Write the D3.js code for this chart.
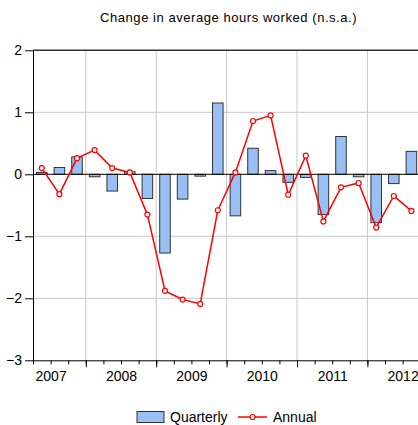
<!DOCTYPE html>
<html>
<head>
<meta charset="utf-8">
<script src="https://cdn.jsdelivr.net/npm/d3@7"></script>
<style>
body { margin: 0; background: #fff; }
svg { display: block; font-family: Arial, "Liberation Sans", sans-serif; }
.grid line { stroke: #c8c8c8; stroke-width: 1; }
.axis path, .axis line { stroke: #000; }
.axis text { font-size: 14px; fill: #000; }
</style>
</head>
<body>
<div id="chart"></div>
<script>
var WIDTH = 418;
var HEIGHT = 425;

var quarters = ['2007Q2', '2007Q3', '2007Q4',
	'2008Q1', '2008Q2', '2008Q3', '2008Q4',
	'2009Q1', '2009Q2', '2009Q3', '2009Q4',
	'2010Q1', '2010Q2', '2010Q3', '2010Q4',
	'2011Q1', '2011Q2', '2011Q3', '2011Q4',
	'2012Q1', '2012Q2', '2012Q3'];

var quarterly = [0.03, 0.11, 0.28,
	-0.04, -0.27, 0.04, -0.39,
	-1.27, -0.40, -0.03, 1.15,
	-0.67, 0.42, 0.06, -0.13,
	-0.05, -0.65, 0.61, -0.04,
	-0.78, -0.15, 0.37];

var annual = [0.10, -0.32, 0.26,
	0.39, 0.10, 0.03, -0.65,
	-1.88, -2.02, -2.09, -0.58,
	0.03, 0.86, 0.95, -0.33,
	0.30, -0.76, -0.21, -0.14,
	-0.86, -0.35, -0.59];

var years = [2007, 2008, 2009, 2010, 2011, 2012];
var yTicks = [-3, -2, -1, 0, 1, 2];

var plotLeft = 33, plotRight = 420.2, plotTop = 50.3, plotBottom = 360.3;

var svg = d3.select('#chart').append('svg')
	.attr('width', WIDTH)
	.attr('height', HEIGHT);

// time in fractional years, plot starts at 2007Q2
var t = d3.scaleLinear().domain([2007.25, 2012.75]).range([plotLeft, plotRight]);
var x = d3.scaleBand().domain(quarters).range([plotLeft, plotRight]).paddingInner(0.4).paddingOuter(0.2);
var y = d3.scaleLinear().domain([-3, 2]).range([plotBottom, plotTop]);

// gridlines
var grid = svg.append('g').attr('class', 'grid');
grid.selectAll('.gx').data(years.slice(1)).enter().append('line')
	.attr('x1', function(d) { return t(d); })
	.attr('x2', function(d) { return t(d); })
	.attr('y1', plotTop).attr('y2', plotBottom);
grid.selectAll('.gy').data([-2, -1, 1]).enter().append('line')
	.attr('x1', plotLeft).attr('x2', plotRight)
	.attr('y1', function(d) { return y(d); })
	.attr('y2', function(d) { return y(d); });

// bars
svg.append('g').selectAll('rect').data(quarterly).enter().append('rect')
	.attr('x', function(d, i) { return x(quarters[i]); })
	.attr('y', function(d) { return y(Math.max(0, d)); })
	.attr('width', x.bandwidth())
	.attr('height', function(d) { return Math.abs(y(d) - y(0)); })
	.attr('fill', '#99c0f5')
	.attr('stroke', '#333')
	.attr('stroke-width', 1);

// zero line
svg.append('line')
	.attr('x1', plotLeft).attr('x2', plotRight)
	.attr('y1', y(0)).attr('y2', y(0))
	.attr('stroke', '#000');

// annual line
var cx = function(d, i) { return x(quarters[i]) + x.bandwidth() / 2; };
var line = d3.line().x(cx).y(function(d) { return y(d); });
svg.append('path')
	.datum(annual)
	.attr('d', line)
	.attr('fill', 'none')
	.attr('stroke', '#ff0000')
	.attr('stroke-width', 1.5);
svg.append('g').selectAll('circle').data(annual).enter().append('circle')
	.attr('cx', cx)
	.attr('cy', function(d) { return y(d); })
	.attr('r', 2.5)
	.attr('fill', '#fff')
	.attr('stroke', '#ff0000')
	.attr('stroke-width', 1.2);

// top frame
svg.append('line')
	.attr('x1', plotLeft).attr('x2', WIDTH)
	.attr('y1', plotTop).attr('y2', plotTop)
	.attr('stroke', '#333').attr('stroke-width', 1.5);

// y axis
svg.append('g').attr('class', 'axis')
	.attr('transform', 'translate(' + plotLeft + ',0)')
	.call(d3.axisLeft(y).tickValues(yTicks).tickSize(8).tickPadding(3).tickSizeOuter(0)
		.tickFormat(d3.format('d')));

// x axis: minor quarter ticks, major year ticks, year labels in the middle
var quarterTicks = [];
for (var k = 0; k < quarters.length; k++) {
	quarterTicks.push(+quarters[k].slice(0, 4) + (+quarters[k].slice(5) - 1) / 4);
}
var xAxis = svg.append('g').attr('class', 'axis')
	.attr('transform', 'translate(0,' + plotBottom + ')');
xAxis.call(d3.axisBottom(t).tickValues(quarterTicks).tickSize(4).tickFormat('').tickSizeOuter(0));
xAxis.append('g')
	.call(d3.axisBottom(t).tickValues(years.slice(1)).tickSize(7).tickFormat('').tickSizeOuter(0))
	.select('.domain').remove();
xAxis.append('g')
	.call(d3.axisBottom(t).tickValues(years.map(function(d) { return d + 0.5; }))
		.tickSize(0).tickPadding(11).tickFormat(function(d) { return String(Math.floor(d)); }))
	.select('.domain').remove();

// title
svg.append('text')
	.attr('x', (plotLeft + plotRight) / 2 + 2)
	.attr('y', 22)
	.attr('text-anchor', 'middle')
	.attr('font-size', 13)
	.attr('letter-spacing', 0.55)
	.text('Change in average hours worked (n.s.a.)');

// legend
var legend = svg.append('g').attr('transform', 'translate(0,417)');
legend.append('rect')
	.attr('x', 137).attr('y', -5.5).attr('width', 27).attr('height', 11)
	.attr('fill', '#99c0f5').attr('stroke', '#333');
legend.append('text').attr('x', 170).attr('y', 5).attr('font-size', 14).text('Quarterly');
legend.append('line')
	.attr('x1', 238).attr('x2', 267).attr('y1', 0).attr('y2', 0)
	.attr('stroke', '#ff0000').attr('stroke-width', 1.5);
legend.append('circle')
	.attr('cx', 252.5).attr('cy', 0).attr('r', 2.5)
	.attr('fill', '#fff').attr('stroke', '#ff0000').attr('stroke-width', 1.2);
legend.append('text').attr('x', 273).attr('y', 5).attr('font-size', 14).text('Annual');
</script>
</body>
</html>
